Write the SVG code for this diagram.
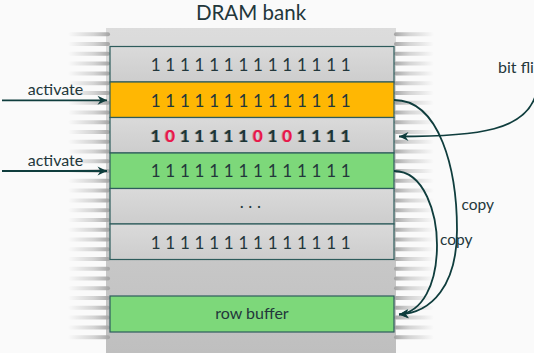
<svg xmlns="http://www.w3.org/2000/svg" width="534" height="353" viewBox="0 0 534 353">
<style>
.t{font-family:Lato,"Open Sans",sans-serif;fill:#23373b}
.d{font-family:Lato,"Open Sans",sans-serif;font-size:17px;fill:#23373b;text-anchor:middle}
.row{stroke:#2e5c5c;stroke-width:1.2}
.con{fill:none;stroke:#0f3d3d;stroke-width:1.8}
.red{fill:#e8174a}
</style>
<defs>
<linearGradient id="bank" x1="0" y1="0" x2="0" y2="1">
<stop offset="0" stop-color="#dcdcdc"/><stop offset="1" stop-color="#bfbfbf"/>
</linearGradient>
<linearGradient id="gray" x1="0" y1="0" x2="0" y2="1">
<stop offset="0" stop-color="#dadada"/><stop offset="1" stop-color="#cdcdcd"/>
</linearGradient>
<linearGradient id="gl" x1="0" y1="0" x2="1" y2="0">
<stop offset="0" stop-color="#b8b8b8" stop-opacity="0"/><stop offset="0.6" stop-color="#bcbcbc" stop-opacity="0.6"/><stop offset="1" stop-color="#a4a4a4"/>
</linearGradient>
<linearGradient id="gr" x1="1" y1="0" x2="0" y2="0">
<stop offset="0" stop-color="#b8b8b8" stop-opacity="0"/><stop offset="0.6" stop-color="#bcbcbc" stop-opacity="0.6"/><stop offset="1" stop-color="#a4a4a4"/>
</linearGradient>
<rect id="sl" x="68" y="-2" width="42" height="4" rx="2" fill="url(#gl)"/>
<rect id="sr" x="394" y="-2" width="40" height="4" rx="2" fill="url(#gr)"/>
<marker id="ah" viewBox="-10 -5 11 10" refX="0" refY="0" markerWidth="11" markerHeight="10" markerUnits="userSpaceOnUse" orient="auto">
<path d="M0,0 L-9.5,-4.5 L-6.5,0 L-9.5,4.5 Z" fill="#0f3d3d"/>
</marker>
</defs>
<rect width="534" height="353" fill="#fafafa"/>
<g id="bank-bg">
<rect x="106" y="28" width="290" height="325" fill="url(#bank)"/>
</g>
<g id="stripes">
<use href="#sl" y="34.3"/><use href="#sl" y="44.1"/><use href="#sl" y="53.8"/><use href="#sl" y="63.6"/><use href="#sl" y="73.4"/><use href="#sl" y="83.2"/><use href="#sl" y="92.9"/><use href="#sl" y="102.7"/><use href="#sl" y="112.5"/><use href="#sl" y="122.2"/><use href="#sl" y="132"/><use href="#sl" y="141.8"/><use href="#sl" y="151.5"/><use href="#sl" y="161.3"/><use href="#sl" y="171.1"/><use href="#sl" y="180.8"/><use href="#sl" y="190.6"/><use href="#sl" y="200.4"/><use href="#sl" y="210.2"/><use href="#sl" y="219.9"/><use href="#sl" y="229.7"/><use href="#sl" y="239.5"/><use href="#sl" y="249.2"/><use href="#sl" y="259"/><use href="#sl" y="268.8"/><use href="#sl" y="278.5"/><use href="#sl" y="288.3"/><use href="#sl" y="298.1"/><use href="#sl" y="307.8"/><use href="#sl" y="317.6"/><use href="#sl" y="327.4"/><use href="#sl" y="337.2"/>
<use href="#sr" y="34.3"/><use href="#sr" y="44.1"/><use href="#sr" y="53.8"/><use href="#sr" y="63.6"/><use href="#sr" y="73.4"/><use href="#sr" y="83.2"/><use href="#sr" y="92.9"/><use href="#sr" y="102.7"/><use href="#sr" y="112.5"/><use href="#sr" y="122.2"/><use href="#sr" y="132"/><use href="#sr" y="141.8"/><use href="#sr" y="151.5"/><use href="#sr" y="161.3"/><use href="#sr" y="171.1"/><use href="#sr" y="180.8"/><use href="#sr" y="190.6"/><use href="#sr" y="200.4"/><use href="#sr" y="210.2"/><use href="#sr" y="219.9"/><use href="#sr" y="229.7"/><use href="#sr" y="239.5"/><use href="#sr" y="249.2"/><use href="#sr" y="259"/><use href="#sr" y="268.8"/><use href="#sr" y="278.5"/><use href="#sr" y="288.3"/><use href="#sr" y="298.1"/><use href="#sr" y="307.8"/><use href="#sr" y="317.6"/><use href="#sr" y="327.4"/><use href="#sr" y="337.2"/>
</g>
<text class="t" x="251" y="19.5" font-size="20.5" text-anchor="middle">DRAM bank</text>
<g id="row1">
<rect class="row" x="110" y="46.5" width="284" height="35.5" fill="url(#gray)"/>
<text class="d" x="155.7 170.3 184.9 199.5 214.2 228.8 243.4 258 272.6 287.2 301.9 316.5 331.1 345.7" y="70.7">11111111111111</text>
</g>
<g id="row2">
<rect class="row" x="110" y="82" width="284" height="35.5" fill="#ffb703"/>
<text class="d" x="155.7 170.3 184.9 199.5 214.2 228.8 243.4 258 272.6 287.2 301.9 316.5 331.1 345.7" y="106.5">11111111111111</text>
</g>
<g id="row3">
<rect class="row" x="110" y="117.5" width="284" height="35.5" fill="url(#gray)"/>
<text class="d" x="154.7 169.3 183.9 198.5 213.2 227.8 242.4 257 271.6 286.2 300.9 315.5 330.1 344.7" y="142.3" font-weight="bold" opacity="0.45">1<tspan class="red">0</tspan>11111<tspan class="red">0</tspan>1<tspan class="red">0</tspan>1111</text>
<text class="d" x="155.7 170.3 184.9 199.5 214.2 228.8 243.4 258 272.6 287.2 301.9 316.5 331.1 345.7" y="142.3" font-weight="bold" style="fill:#1c3434">1<tspan class="red">0</tspan>11111<tspan class="red">0</tspan>1<tspan class="red">0</tspan>1111</text>
</g>
<g id="row4">
<rect class="row" x="110" y="153" width="284" height="35.5" fill="#7dd87a"/>
<text class="d" x="155.7 170.3 184.9 199.5 214.2 228.8 243.4 258 272.6 287.2 301.9 316.5 331.1 345.7" y="177.2">11111111111111</text>
</g>
<g id="row5">
<rect class="row" x="110" y="188.5" width="284" height="35.5" fill="url(#gray)"/>
<text class="d" x="241.7 250.3 259" y="208" font-size="11">...</text>
</g>
<g id="row6">
<rect class="row" x="110" y="224" width="284" height="35.5" fill="url(#gray)"/>
<text class="d" x="155.7 170.3 184.9 199.5 214.2 228.8 243.4 258 272.6 287.2 301.9 316.5 331.1 345.7" y="248.5">11111111111111</text>
</g>
<g id="rowbuffer">
<rect class="row" x="110" y="296" width="284" height="36" fill="#7dd87a"/>
<text class="t" x="252" y="319.3" font-size="16" text-anchor="middle">row buffer</text>
</g>
<g id="labels">
<text class="t" x="55.5" y="95" font-size="16" text-anchor="middle">activate</text>
<text class="t" x="55.5" y="165.7" font-size="16" text-anchor="middle">activate</text>
<text class="t" x="498" y="73.3" font-size="16">bit fli</text>
<text class="t" x="461.5" y="210" font-size="15.5">copy</text>
<text class="t" x="440" y="245" font-size="15.5">copy</text>
</g>
<g id="connectors">
<path class="con" d="M2 100.3 L107 100.3" marker-end="url(#ah)"/>
<path class="con" d="M2 171 L107 171" marker-end="url(#ah)"/>
<path class="con" d="M536 94 C526 130 480 136.5 399 136.5" marker-end="url(#ah)"/>
<path class="con" d="M394 100 C440 100 457 170 457 230 C457 285 432 313 399 314.5" marker-end="url(#ah)"/>
<path class="con" d="M394 171 C425 171 437 215 437 245 C437 285 422 312 399 314.5" marker-end="url(#ah)"/>
</g>
</svg>
